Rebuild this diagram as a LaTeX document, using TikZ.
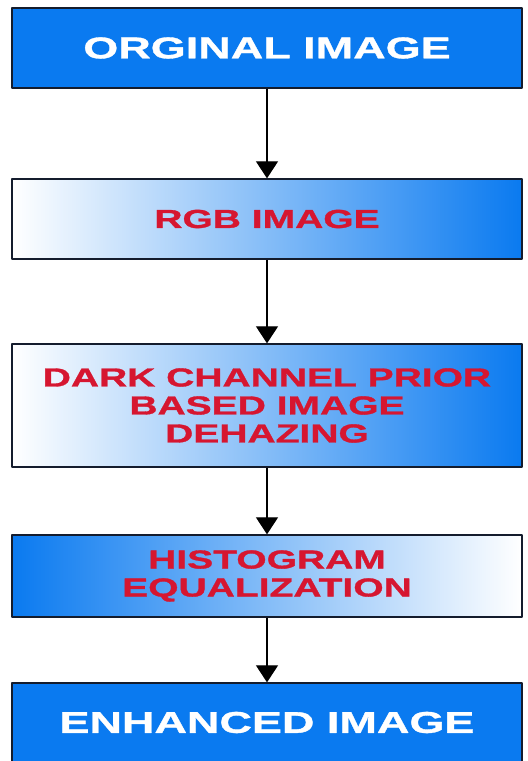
\documentclass[tikz,border=0pt]{standalone}
\usepackage{fontspec}
\usetikzlibrary{arrows.meta}
\newfontfamily\boxfont[FakeStretch=1.5,FakeBold=1.2]{Liberation Sans}
\definecolor{boxblue}{RGB}{10,122,240}
\definecolor{textred}{RGB}{214,22,48}
\definecolor{strokecol}{RGB}{20,28,45}
\tikzset{
  stepbox/.style={draw=strokecol, line width=1.3bp, minimum width=510bp, inner sep=0pt, align=center,
    font=\boxfont\bfseries\fontsize{26bp}{28bp}\selectfont},
  solidbox/.style={stepbox, fill=boxblue, text=white, font=\boxfont\bfseries\fontsize{30bp}{32bp}\selectfont},
  fadebox/.style={stepbox, left color=white, right color=boxblue, text=textred},
  backbox/.style={stepbox, left color=boxblue, right color=white, text=textred}
}
\begin{document}
\begin{tikzpicture}[>={Triangle[length=17bp,width=22bp]},line join=bevel]
  \useasboundingbox (0bp,0bp) rectangle (528bp,761bp);
%%
  % Node: ORGINAL IMAGE
  \node [solidbox, minimum height=80bp] (orig) at (267bp,713bp) {ORGINAL IMAGE};
  % Node: RGB IMAGE
  \node [fadebox, minimum height=80bp] (rgb) at (267bp,542bp) {RGB IMAGE};
  % Node: DARK CHANNEL PRIOR
  \node [fadebox, minimum height=123bp] (dcp) at (267bp,355.5bp) {DARK CHANNEL PRIOR\\BASED IMAGE\\DEHAZING};
  % Node: HISTOGRAM EQUALIZATION
  \node [backbox, minimum height=82bp] (histeq) at (267bp,185bp) {HISTOGRAM\\EQUALIZATION};
  % Node: ENHANCED IMAGE
  \node [solidbox, minimum height=79bp] (enh) at (267bp,38.5bp) {ENHANCED IMAGE};
%%
  % Edge: orig -> rgb
  \draw [->, line width=1.3bp] (orig) -- (rgb);
  % Edge: rgb -> dcp
  \draw [->, line width=1.3bp] (rgb) -- (dcp);
  % Edge: dcp -> histeq
  \draw [->, line width=1.3bp] (dcp) -- (histeq);
  % Edge: histeq -> enh
  \draw [->, line width=1.3bp] (histeq) -- (enh);
%
\end{tikzpicture}
\end{document}
